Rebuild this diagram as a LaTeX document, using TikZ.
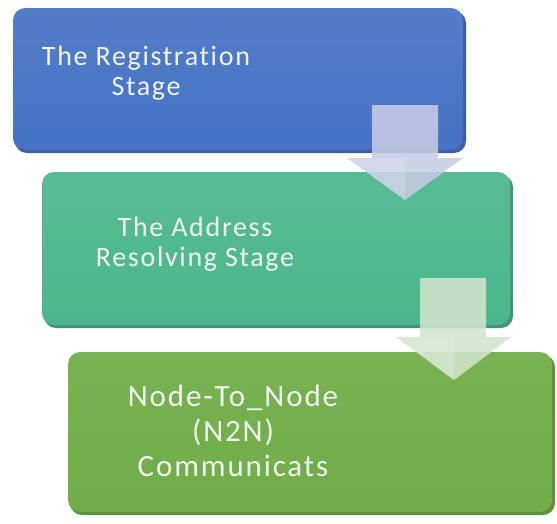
\documentclass[tikz,border=0pt]{standalone}
\usepackage{fontspec}
\setmainfont{Carlito}[LetterSpace=6, Ligatures=NoCommon]
\definecolor{stageblue}{RGB}{68,114,196}
\definecolor{stageblueDk}{RGB}{40,78,150}
\definecolor{stageteal}{RGB}{76,183,140}
\definecolor{stagetealDk}{RGB}{44,140,102}
\definecolor{stagegreen}{RGB}{112,173,71}
\definecolor{stagegreenDk}{RGB}{78,132,44}
\definecolor{arrowblue}{RGB}{198,204,228}
\definecolor{arrowgreen}{RGB}{208,228,204}
\definecolor{labeltext}{RGB}{242,244,242}
\tikzset{
  stagebox/.style={rounded corners=12pt, inner sep=0pt},
  stageshadow/.style={rounded corners=12pt, fill=#1, opacity=0.9},
  stagelabel/.style={text=labeltext, align=center, inner sep=0pt},
  flowarrow/.style={fill=#1, opacity=0.88},
}
\begin{document}
\begin{tikzpicture}[x=1pt,y=-1pt]
  \useasboundingbox (0,0) rectangle (557,523);

  % stage 1
  \fill[stageshadow=stageblueDk] (15,11) rectangle (466,153);
  \node[stagebox, minimum width=450pt, minimum height=142pt,
        top color=stageblue!92!white, bottom color=stageblue] (s1) at (238,79) {};
  \node[stagelabel, font=\fontsize{28}{30}\selectfont] (t1) at (146,73)
       {The Registration\\Stage};

  % stage 2
  \fill[stageshadow=stagetealDk] (44,175) rectangle (513,328);
  \node[stagebox, minimum width=468pt, minimum height=153pt,
        top color=stageteal!94!white, bottom color=stageteal] (s2) at (276,248.5) {};
  \node[stagelabel, font=\fontsize{28}{30}\selectfont] (t2) at (195,244)
       {The Address\\Resolving Stage};

  % stage 3
  \fill[stageshadow=stagegreenDk] (70,355) rectangle (555,515);
  \node[stagebox, minimum width=484pt, minimum height=160pt,
        top color=stagegreen!94!white, bottom color=stagegreen] (s3) at (310,432) {};
  \node[stagelabel, font=\fontsize{31}{35}\selectfont] (t3) at (233,431)
       {Node-To\_Node\\(N2N)\\Communicats};

  % down arrows between the stages
  \fill[flowarrow=arrowblue]
    (372,105) -- (438,105) -- (438,158) -- (463,158) -- (405,200)
    -- (347,158) -- (372,158) -- cycle;
  \fill[white, opacity=0.15] (405,200) -- (347,158) -- (405,158) -- cycle;

  \fill[flowarrow=arrowgreen]
    (420,278) -- (486,278) -- (486,337) -- (511,337) -- (454,380)
    -- (396,337) -- (420,337) -- cycle;
  \fill[white, opacity=0.15] (454,380) -- (396,337) -- (454,337) -- cycle;
\end{tikzpicture}
\end{document}
